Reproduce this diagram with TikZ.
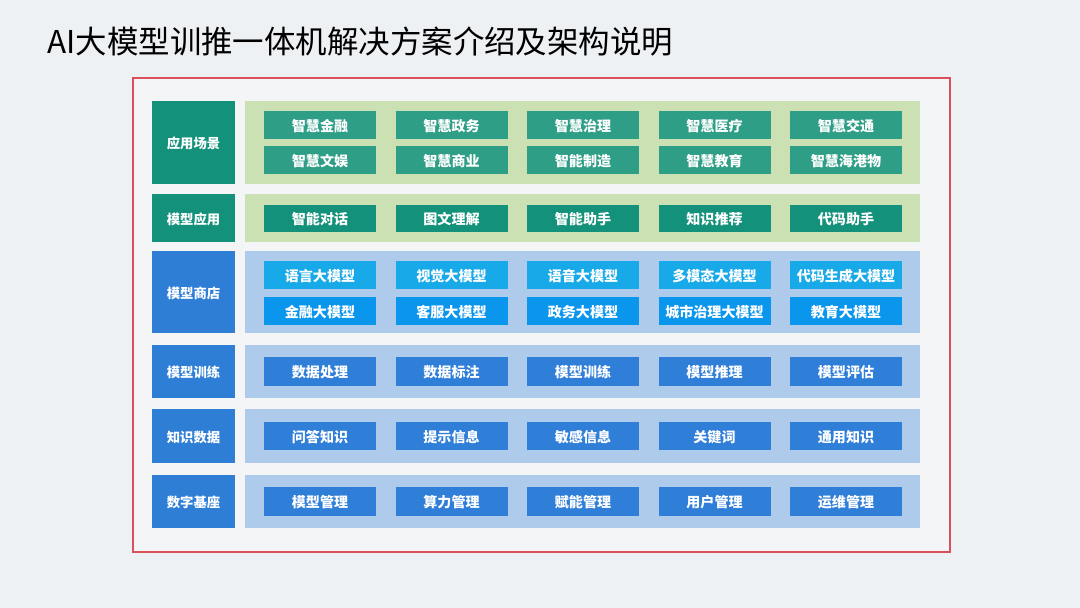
\documentclass[tikz,border=0pt]{standalone}
\usepackage{fontspec}
\setmainfont{Noto Sans CJK SC}
\newfontfamily\cjk{Noto Sans CJK SC}
\begin{document}
\begin{tikzpicture}[x=0.02cm,y=-0.02cm,
  lab/.style={inner sep=0pt,font=\cjk\fontsize{7.6}{9}\selectfont\bfseries,text=white},
  cel/.style={inner sep=0pt,font=\cjk\fontsize{8}{9}\selectfont\bfseries,text=white}]
\definecolor{bg}{HTML}{EEF1F4}
\definecolor{teal}{HTML}{13917A}
\definecolor{tealc}{HTML}{2E9E86}
\definecolor{gband}{HTML}{CBE1B3}
\definecolor{blab}{HTML}{2E7ED6}
\definecolor{bband}{HTML}{AECBEC}
\definecolor{cyanA}{HTML}{18A9E9}
\definecolor{cyanB}{HTML}{0B96EE}
\definecolor{bcell}{HTML}{2F7ED8}
\definecolor{redf}{HTML}{D9505A}
\fill[bg] (0,0) rectangle (1080,608);
\useasboundingbox (0,0) rectangle (1080,608);
\node[anchor=west,inner sep=0pt,font=\cjk\fontsize{17.9}{21}\selectfont,text=black] (title) at (47,42) {AI大模型训推一体机解决方案介绍及架构说明};
\draw[redf,line width=0.6pt,fill=bg!70!white] (133,78) rectangle (950,552);
\newcommand\band[4]{% y1 y2 labelcolor bandcolor
  \fill[#3] (152,#1) rectangle (235,#2);
  \fill[#4] (245,#1) rectangle (920,#2);}
\band{101}{184}{teal}{gband}
\band{194}{242}{teal}{gband}
\band{251}{333}{blab}{bband}
\band{345}{398}{blab}{bband}
\band{409}{463}{blab}{bband}
\band{475}{528}{blab}{bband}
\node[lab] (l1) at (193.5,143) {应用场景};
\node[lab] (l2) at (193.5,219) {模型应用};
\node[lab] (l3) at (193.5,293) {模型商店};
\node[lab] (l4) at (193.5,372.5) {模型训练};
\node[lab] (l5) at (193.5,437) {知识数据};
\node[lab] (l6) at (193.5,502.5) {数字基座};
\newcommand\cellrow[4]{% y1 y2 color list
  \foreach \t [count=\i] in {#4} {
    \pgfmathsetmacro\xa{264+(\i-1)*131.5}
    \fill[#3] (\xa,#1) rectangle ++(112,#2-#1);
    \node[cel] (c-#1-\i) at (\xa+56,#1/2+#2/2+1) {\t};
  }}
\cellrow{111}{139}{tealc}{智慧金融,智慧政务,智慧治理,智慧医疗,智慧交通}
\cellrow{146}{174}{tealc}{智慧文娱,智慧商业,智能制造,智慧教育,智慧海港物}
\cellrow{205}{232}{teal}{智能对话,图文理解,智能助手,知识推荐,代码助手}
\cellrow{261}{289}{cyanA}{语言大模型,视觉大模型,语音大模型,多模态大模型,代码生成大模型}
\cellrow{297}{325}{cyanB}{金融大模型,客服大模型,政务大模型,城市治理大模型,教育大模型}
\cellrow{357}{386}{bcell}{数据处理,数据标注,模型训练,模型推理,模型评估}
\cellrow{422}{450}{bcell}{问答知识,提示信息,敏感信息,关键词,通用知识}
\cellrow{487}{516}{bcell}{模型管理,算力管理,赋能管理,用户管理,运维管理}
\end{tikzpicture}
\end{document}
